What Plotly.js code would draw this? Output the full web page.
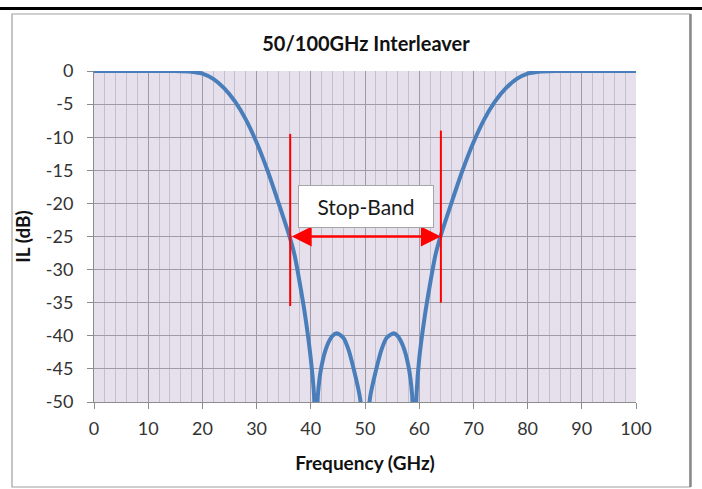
<!DOCTYPE html>
<html>
<head>
<meta charset="utf-8">
<script src="https://cdn.plot.ly/plotly-3.0.1.min.js"></script>
<style>
  html, body { margin: 0; padding: 0; background: #ffffff; }
  #chart { width: 702px; height: 489px; }
</style>
</head>
<body>
<div id="chart"></div>
<script>
// Frequency (GHz) and insertion loss (dB)
const freqGHz = [0, 5, 10, 15, 18, 20, 22, 24, 26, 28, 30, 32, 34, 36, 37, 38, 39, 40, 40.6, 40.95,
  41.3, 42, 43, 44, 44.8, 46, 47, 48, 49, 49.6, 50.05, 50.5, 51, 52, 53, 54, 55.3, 56, 57, 58, 58.7, 59.1,
  59.5, 60, 61, 62, 63, 64, 66, 68, 70, 72, 74, 76, 78, 80, 82, 85, 90, 95, 100];
const ilDB = [0, 0, 0, 0, -0.1, -0.4, -1.2, -2.6, -4.6, -7.3, -10.8, -15, -19.8, -24.8, -27.8, -32.2, -37.2, -43.5, -49, -62,
  -49, -44.5, -41.5, -40, -39.6, -40.3, -42.2, -45.3, -49, -53, -62, -53, -49, -45.3, -42.2, -40.3, -39.6, -40, -41.5, -44.5, -49, -62,
  -49, -43.5, -37.2, -32.2, -27.8, -24.8, -19.8, -15, -10.8, -7.3, -4.6, -2.6, -1.2, -0.4, -0.1, 0, 0, 0, 0];
const stopBandEdges = [36.2, 64.0];
const stopBandLevel = -25;
const stopBandLineY = [-9.5, -35.5];
const xTicks = [0, 10, 20, 30, 40, 50, 60, 70, 80, 90, 100];
const yTicks = [0, -5, -10, -15, -20, -25, -30, -35, -40, -45, -50];
const yTickText = ['0', '-5', '-10', '-15', '-20', '-25', '-30', '-35', '-40', '-45', '-50'];

const W = 702, H = 489;
const L = 94, R = 66, T = 71, B = 87;
const pw = W - L - R, ph = H - T - B;
const px = v => (v - L) / pw;
const py = v => (H - B - v) / ph;

const trace = {
  x: freqGHz, y: ilDB, type: 'scatter', mode: 'lines',
  line: { color: '#4a7ebb', width: 4, shape: 'spline', smoothing: 0.6 },
  hoverinfo: 'skip'
};

const font = 'Lato, "Open Sans", "DejaVu Sans", sans-serif';

const layout = {
  width: W, height: H,
  margin: { l: L, r: R, t: T, b: B },
  paper_bgcolor: '#ffffff',
  plot_bgcolor: '#e6e0ec',
  showlegend: false,
  font: { family: font, color: '#333333', size: 18 },
  title: { text: '<b>50/100GHz Interleaver</b>', font: { size: 20, color: '#111111', family: font },
           x: px(366), xref: 'paper', xanchor: 'center', y: 1 - 44 / H, yanchor: 'middle' },
  xaxis: {
    range: [0, 100], tickvals: xTicks, ticks: 'outside', ticklen: 6, tickcolor: '#8c8c8c',
    showline: true, linecolor: '#8c8c8c', linewidth: 1,
    showgrid: true, gridcolor: '#9f9ba6', gridwidth: 1, zeroline: false,
    minor: { dtick: 2, showgrid: true, gridcolor: '#c4bfcc', gridwidth: 1, ticks: '' },
    tickfont: { size: 18, color: '#333333' }, ticklabelstandoff: 4,
    title: { text: '<b>Frequency (GHz)</b>', font: { size: 19, color: '#111111' }, standoff: 19 },
    fixedrange: true
  },
  yaxis: {
    range: [-50, 0], tickvals: yTicks, ticktext: yTickText, ticks: 'outside', ticklen: 6, tickcolor: '#8c8c8c',
    showline: true, linecolor: '#8c8c8c', linewidth: 1,
    showgrid: true, gridcolor: '#9f9ba6', gridwidth: 1, zeroline: false,
    tickfont: { size: 18, color: '#333333' }, ticklabelstandoff: 10,
    title: { text: '<b>IL (dB)</b>', font: { size: 19, color: '#111111' }, standoff: 10 },
    fixedrange: true
  },
  shapes: [
    { type: 'rect', xref: 'paper', yref: 'paper', x0: px(12), x1: px(690), y0: py(487), y1: py(14),
      line: { color: '#a0a0a0', width: 1.2 }, fillcolor: 'rgba(0,0,0,0)', layer: 'below' },
    { type: 'line', xref: 'paper', yref: 'paper', x0: px(690.5), x1: px(690.5), y0: py(487), y1: py(14),
      line: { color: '#8a8a8a', width: 2.5 } },
    { type: 'line', xref: 'paper', yref: 'paper', x0: px(0), x1: px(702), y0: py(8.5), y1: py(8.5),
      line: { color: '#000000', width: 3 } },
    { type: 'line', xref: 'x', yref: 'y', x0: stopBandEdges[0], x1: stopBandEdges[0], y0: stopBandLineY[0], y1: stopBandLineY[1],
      line: { color: '#ff0000', width: 2 } },
    { type: 'line', xref: 'x', yref: 'y', x0: stopBandEdges[1], x1: stopBandEdges[1], y0: stopBandLineY[0] + 0.5, y1: stopBandLineY[1] + 0.5,
      line: { color: '#ff0000', width: 2 } }
  ],
  annotations: [
    { x: stopBandEdges[1], y: stopBandLevel, ax: stopBandEdges[0], ay: stopBandLevel, xref: 'x', yref: 'y', axref: 'x', ayref: 'y',
      text: '', showarrow: true, arrowhead: 2, startarrowhead: 2, arrowside: 'end+start', arrowsize: 1.6, startarrowsize: 1.6,
      arrowwidth: 2.5, arrowcolor: '#ff0000', standoff: 0, startstandoff: 0 },
    { x: 50.2, y: -20.4, xref: 'x', yref: 'y', text: 'Stop-Band', showarrow: false,
      font: { size: 21, color: '#1a1a1a', family: font }, bgcolor: '#ffffff', bordercolor: '#a6a6a6', borderwidth: 1,
      width: 132, height: 39, borderpad: 1, xanchor: 'center', yanchor: 'middle' }
  ]
};

Plotly.newPlot('chart', [trace], layout, { displayModeBar: false, staticPlot: true });
</script>
</body>
</html>
